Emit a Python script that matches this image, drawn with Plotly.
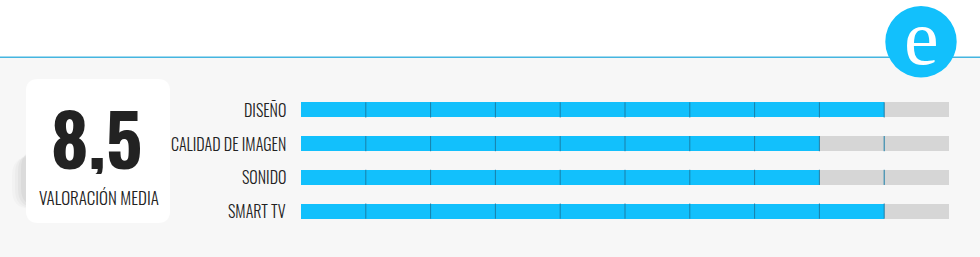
import plotly.graph_objects as go

# ---- data ----
categories = ["DISEÑO", "CALIDAD DE IMAGEN", "SONIDO", "SMART TV"]
scores = [9, 8, 8, 9]
max_score = 10
average_label = "8,5"
average_caption = "VALORACIÓN MEDIA"
logo_letter = "e"

W, H = 980, 257
BLUE = "#12c0fc"
GRAY = "#d6d6d6"
DIV = "#1a7fa8"
FONT = "Oswald, Liberation Sans Narrow, sans-serif"


def px(x):
    return x / W


def py(y):
    return 1 - y / H


def rrect(x0, y0, x1, y1, r):
    pts = [
        ("M", [(x0 + r, y0)]),
        ("L", [(x1 - r, y0)]),
        ("Q", [(x1, y0), (x1, y0 + r)]),
        ("L", [(x1, y1 - r)]),
        ("Q", [(x1, y1), (x1 - r, y1)]),
        ("L", [(x0 + r, y1)]),
        ("Q", [(x0, y1), (x0, y1 - r)]),
        ("L", [(x0, y0 + r)]),
        ("Q", [(x0, y0), (x0 + r, y0)]),
    ]
    s = ""
    for cmd, ps in pts:
        s += cmd + " " + " ".join(f"{px(a):.5f},{py(b):.5f}" for a, b in ps) + " "
    return s + "Z"


ypos = list(range(len(categories)))
fig = go.Figure()

fig.add_trace(go.Bar(
    y=ypos, x=[max_score] * len(categories), orientation="h",
    marker=dict(color=GRAY, line=dict(width=0)), width=0.45,
    hoverinfo="skip", showlegend=False,
))
fig.add_trace(go.Bar(
    y=ypos, x=scores, orientation="h",
    marker=dict(color=BLUE, line=dict(width=0)), width=0.45,
    hoverinfo="skip", showlegend=False,
))

shapes = []
# background lower area
shapes.append(dict(type="rect", xref="paper", yref="paper", x0=0, x1=1,
                   y0=0, y1=py(57), fillcolor="#f7f7f7", line_width=0, layer="below"))
# top line
shapes.append(dict(type="line", xref="paper", yref="paper", x0=0, x1=1,
                   y0=py(57.3), y1=py(57.3), line=dict(color="#45b5e0", width=1.5), layer="below"))
# shadow of the box
for dx, dy, op in [(-14, 12, 0.02), (-11, 10, 0.025), (-8, 8, 0.03), (-5, 5, 0.035)]:
    shapes.append(dict(type="path", xref="paper", yref="paper",
                       path=rrect(26 + dx, 145 + dy, 110, 205 + dy * 0.3, 18),
                       fillcolor=f"rgba(0,0,0,{op})", line_width=0, layer="below"))
# white box
shapes.append(dict(type="path", xref="paper", yref="paper",
                   path=rrect(26, 79, 170, 223, 12),
                   fillcolor="#ffffff", line_width=0, layer="below"))
# dividers on bars
for i in ypos:
    for k in range(1, max_score):
        shapes.append(dict(type="line", xref="x", yref="y", x0=k, x1=k,
                           y0=i - 0.225, y1=i + 0.225,
                           line=dict(color=DIV, width=1), layer="above"))
# logo circle
cx, cy, r = 921, 41.7, 35.7
shapes.append(dict(type="circle", xref="paper", yref="paper",
                   x0=px(cx - r), x1=px(cx + r), y0=py(cy + r), y1=py(cy - r),
                   fillcolor=BLUE, line_width=0, layer="above"))

annotations = []
for i, c in enumerate(categories):
    annotations.append(dict(text=c, xref="paper", yref="y", x=px(288), y=i,
                            xanchor="right", yanchor="middle", showarrow=False,
                            font=dict(family=FONT, size=16, color="#222222", weight=300)))
annotations.append(dict(text=average_label, xref="paper", yref="paper",
                        x=px(96), y=py(136), xanchor="center", yanchor="middle",
                        height=76, valign="middle", showarrow=False,
                        font=dict(family=FONT, size=72, color="#222222", weight=700)))
annotations.append(dict(text=average_caption, xref="paper", yref="paper",
                        x=px(98.5), y=py(197), xanchor="center", yanchor="middle",
                        showarrow=False,
                        font=dict(family=FONT, size=17, color="#222222", weight=300)))
annotations.append(dict(text=logo_letter, xref="paper", yref="paper",
                        x=px(921), y=py(37), xanchor="center", yanchor="middle",
                        height=60, valign="middle", showarrow=False,
                        font=dict(family="Liberation Serif, DejaVu Serif, serif", size=78, color="#ffffff")))

fig.update_layout(
    width=W, height=H, margin=dict(l=0, r=0, t=0, b=0),
    paper_bgcolor="#ffffff", plot_bgcolor="rgba(0,0,0,0)",
    barmode="overlay", bargap=0,
    xaxis=dict(domain=[px(301), px(949)], range=[0, max_score], visible=False, fixedrange=True),
    yaxis=dict(domain=[py(228), py(93)], range=[len(categories) - 0.5, -0.5],
               visible=False, fixedrange=True),
    shapes=shapes, annotations=annotations, showlegend=False,
)

fig.write_html("out.html", config={"displayModeBar": False})
